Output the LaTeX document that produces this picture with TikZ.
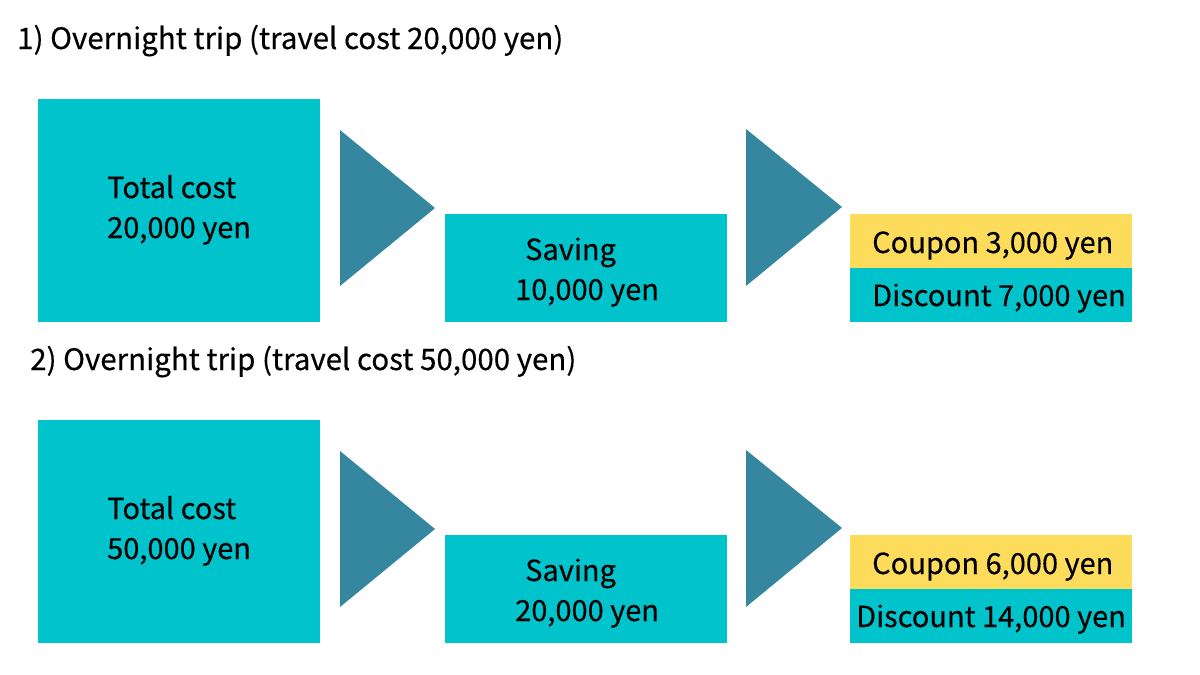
\documentclass[tikz,border=0pt]{standalone}
\usepackage{fontspec}
\setmainfont{Noto Sans CJK JP}[FakeBold=0.4]
\definecolor{teal1}{HTML}{00C3CC}
\definecolor{tri}{HTML}{35879F}
\definecolor{yel}{HTML}{FDDC5C}
\begin{document}
\begin{tikzpicture}[x=1pt,y=-1pt,
  box/.style={fill=teal1,draw=none},
  ybox/.style={fill=yel,draw=none},
  arrowtri/.style={fill=tri,draw=none},
  lbl/.style={anchor=base west,inner sep=0pt,font=\fontsize{29}{35}\selectfont},
  ttl/.style={anchor=base west,inner sep=0pt,font=\fontsize{29.5}{35}\selectfont}]
\useasboundingbox[fill=white] (0,0) rectangle (1200,675);
\foreach \dy/\n/\a/\b/\c/\d in {0/1/{20,000}/{10,000}/{3,000}/{7,000}, 321/2/{50,000}/{20,000}/{6,000}/{14,000}}{
  \begin{scope}[yshift=-\dy pt]
  \fill[box] (38,99) rectangle (320,322);
  \fill[arrowtri] (340,130) -- (435,208) -- (340,286) -- cycle;
  \fill[box] (445,214) rectangle (727,322);
  \fill[arrowtri] (746,129) -- (842,207) -- (746,286) -- cycle;
  \fill[ybox] (850,214) rectangle (1132,268);
  \fill[box] (850,268) rectangle (1132,322);
  \node[lbl] (tc\n) at (107,198) {Total cost};
  \node[lbl] (tv\n) at (107,238) {\a{} yen};
  \node[lbl] (sv\n) at (525,260) {Saving};
  \node[lbl] (sa\n) at (515,300) {\b{} yen};
  \node[lbl] (cp\n) at (872,253) {Coupon \c{} yen};
  \ifnum\n=1
    \node[lbl] (ds\n) at (872,306) {Discount \d{} yen};
  \else
    \node[lbl] (ds\n) at (856,306) {Discount \d{} yen};
  \fi
  \end{scope}
}
\node[ttl] (t1) at (17,49) {1) Overnight trip (travel cost 20,000 yen)};
\node[ttl] (t2) at (30,370) {2) Overnight trip (travel cost 50,000 yen)};
\end{tikzpicture}
\end{document}
